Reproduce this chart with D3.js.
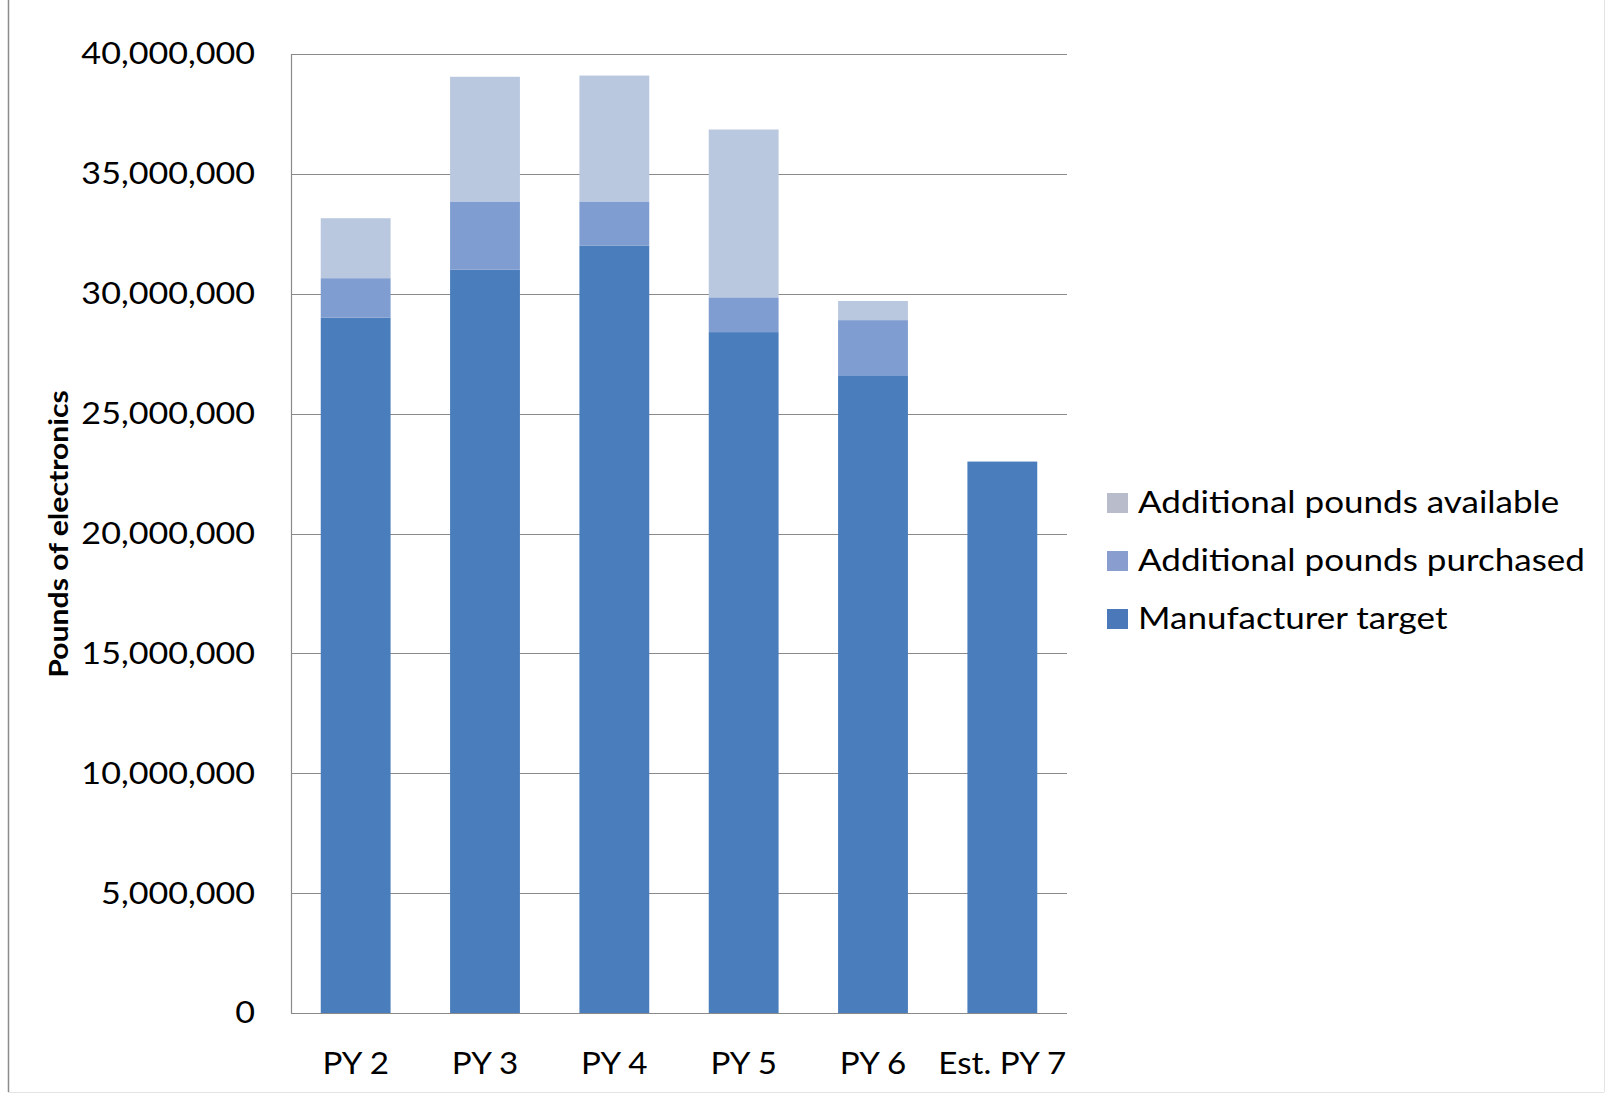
<!DOCTYPE html>
<html>
<head>
<meta charset="utf-8">
<script src="https://cdn.jsdelivr.net/npm/d3@7"></script>
<style>
  html, body { margin: 0; padding: 0; background: #fff; }
  svg { display: block; }
  text { font-family: Lato, "Open Sans", sans-serif; fill: #000; }
</style>
</head>
<body>
<svg id="chart" width="1606" height="1095"></svg>
<script>
// ---- data ----
const categories = ["PY 2", "PY 3", "PY 4", "PY 5", "PY 6", "Est. PY 7"];
const manufacturerTarget = [29000000, 31000000, 32000000, 28400000, 26600000, 23000000];
const additionalPurchased = [1650000, 2850000, 1850000, 1450000, 2300000, 0];
const additionalAvailable = [2500000, 5200000, 5250000, 7000000, 800000, 0];
const seriesNames = ["Manufacturer target", "Additional pounds purchased", "Additional pounds available"];
const yTicks = [0, 5000000, 10000000, 15000000, 20000000, 25000000, 30000000, 35000000, 40000000];
const yTitle = "Pounds of electronics";

// ---- styling ----
const barColors = ["#4a7dbb", "#7f9dd0", "#b9c7df"];
const legendColors = ["#4a78b8", "#8a9dcf", "#b8bccb"];
const FS = 31;          // label font size
const SX_TICK = 1.1;    // horizontal stretch of y tick labels
const SX_X = 1.07;      // horizontal stretch of x labels
const SX_LEG = 1.13;    // horizontal stretch of legend labels

const svg = d3.select("#chart");
const margin = { left: 291, right: 1067, top: 54, bottom: 1013 };

const x = d3.scaleBand().domain(categories).range([margin.left, margin.right]).paddingInner(0.46).paddingOuter(0.23);
const y = d3.scaleLinear().domain([0, 40000000]).range([margin.bottom, margin.top]);

// frame lines
svg.append("line").attr("x1", 8.5).attr("x2", 8.5).attr("y1", 0).attr("y2", 1092).attr("stroke", "#8c8c8c").attr("stroke-width", 1.5);
svg.append("line").attr("x1", 8).attr("x2", 1604).attr("y1", 1092.5).attr("y2", 1092.5).attr("stroke", "#e4e4e4");
svg.append("line").attr("x1", 1604.5).attr("x2", 1604.5).attr("y1", 0).attr("y2", 1092).attr("stroke", "#e4e4e4");

// gridlines
svg.append("g").selectAll("line").data(yTicks.filter(d => d > 0)).join("line")
  .attr("x1", margin.left).attr("x2", margin.right)
  .attr("y1", d => Math.round(y(d)) + 0.5).attr("y2", d => Math.round(y(d)) + 0.5)
  .attr("stroke", "#8a8a8a").attr("stroke-width", 1.2);

// stacked data
const rows = categories.map((c, i) => ({
  cat: c,
  "Manufacturer target": manufacturerTarget[i],
  "Additional pounds purchased": additionalPurchased[i],
  "Additional pounds available": additionalAvailable[i]
}));
const stacked = d3.stack().keys(seriesNames)(rows);

svg.append("g").selectAll("g").data(stacked).join("g")
  .attr("fill", (d, i) => barColors[i])
  .selectAll("rect").data(d => d.filter(s => s[1] - s[0] > 0)).join("rect")
  .attr("x", d => x(d.data.cat))
  .attr("width", x.bandwidth())
  .attr("y", d => y(d[1]))
  .attr("height", d => y(d[0]) - y(d[1]));

// y axis
const pad = 36;
const yAxis = d3.axisLeft(y).tickValues(yTicks).tickFormat(d3.format(",")).tickSize(0).tickPadding(pad);
const gy = svg.append("g").attr("transform", `translate(${margin.left},0)`).call(yAxis);
gy.select(".domain").remove();
gy.selectAll("text").attr("font-size", FS).attr("font-family", "Lato, 'Open Sans', sans-serif").attr("fill", "#000")
  .attr("x", -pad / SX_TICK).attr("transform", `scale(${SX_TICK},1)`);
svg.append("line").attr("x1", margin.left + 0.5).attr("x2", margin.left + 0.5)
  .attr("y1", margin.top).attr("y2", margin.bottom).attr("stroke", "#8a8a8a").attr("stroke-width", 1.2);

// x axis
const xAxis = d3.axisBottom(x).tickSize(0).tickPadding(39);
const gx = svg.append("g").attr("transform", `translate(0,${margin.bottom})`).call(xAxis);
gx.select(".domain").remove();
gx.selectAll("text").attr("font-size", FS).attr("font-family", "Lato, 'Open Sans', sans-serif").attr("fill", "#000")
  .attr("transform", `scale(${SX_X},1)`);
svg.append("line").attr("x1", margin.left).attr("x2", margin.right)
  .attr("y1", margin.bottom + 0.5).attr("y2", margin.bottom + 0.5).attr("stroke", "#8a8a8a").attr("stroke-width", 1.2);

// y title
svg.append("text")
  .attr("transform", `translate(68,534) rotate(-90) scale(1.16,1)`)
  .attr("text-anchor", "middle")
  .attr("font-size", 26).attr("font-weight", "bold")
  .text(yTitle);

// legend (reverse order, available on top)
const legendItems = seriesNames.slice().reverse();
const lg = svg.append("g").attr("transform", "translate(1107,0)");
legendItems.forEach((name, i) => {
  const cy = 502 + i * 58;
  lg.append("rect").attr("x", 0).attr("y", cy - 9).attr("width", 21).attr("height", 20)
    .attr("fill", legendColors[seriesNames.length - 1 - i]);
  lg.append("text").attr("transform", `translate(31,${cy}) scale(${SX_LEG},1)`).attr("dy", "0.35em")
    .attr("font-size", FS).text(name);
});
</script>
</body>
</html>
